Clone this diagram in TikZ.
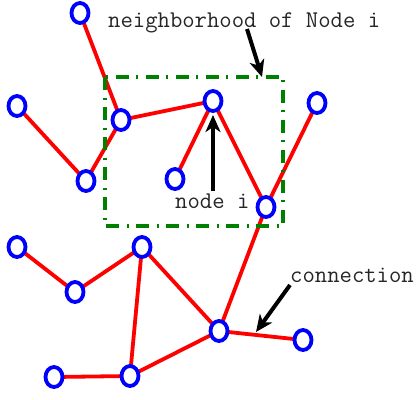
\documentclass[tikz,border=0pt]{standalone}
\usetikzlibrary{shapes.geometric,arrows.meta,backgrounds}
\definecolor{nodeblue}{RGB}{0,0,255}
\definecolor{edgered}{RGB}{255,0,0}
\definecolor{boxgreen}{RGB}{0,128,0}
\tikzset{
  vert/.style={ellipse, draw=nodeblue, fill=white, line width=3.8pt,
    minimum width=17pt, minimum height=20pt, inner sep=0pt},
  link/.style={draw=edgered, line width=3.8pt},
  lbl/.style={font=\ttfamily\fontsize{24}{26}\selectfont, text=black!85, inner sep=0pt, anchor=base west},
  pointer/.style={draw=black, line width=4pt, -{Stealth[length=17pt,width=15pt,inset=5pt]}},
  hood/.style={draw=boxgreen, line width=3.5pt, dash pattern=on 13pt off 8pt on 2pt off 7pt}
}
\begin{document}
\begin{tikzpicture}[x=1pt,y=-1pt]
\useasboundingbox (0,0) rectangle (419,399);
% neighborhood box
\draw[hood] (105,77) rectangle (283,226);
% vertices
\node[vert] (n1) at (80,13) {};
\node[vert] (n2) at (17,106) {};
\node[vert] (n3) at (86,181) {};
\node[vert] (n4) at (121,120) {};
\node[vert] (n5) at (213,101) {};
\node[vert] (n6) at (175,179) {};
\node[vert] (n7) at (266,207) {};
\node[vert] (n8) at (317,103) {};
\node[vert] (n9) at (17,247) {};
\node[vert] (n10) at (75,292) {};
\node[vert] (n11) at (142,247) {};
\node[vert] (n12) at (219,331) {};
\node[vert] (n13) at (303,340) {};
\node[vert] (n14) at (54,377) {};
\node[vert] (n15) at (130,376) {};
% edges
\begin{pgfonlayer}{background}
\draw[link] (n1.center) -- (n4.center);
\draw[link] (n2.center) -- (n3.center);
\draw[link] (n3.center) -- (n4.center);
\draw[link] (n4.center) -- (n5.center);
\draw[link] (n5.center) -- (n6.center);
\draw[link] (n5.center) -- (n7.center);
\draw[link] (n7.center) -- (n8.center);
\draw[link] (n7.center) -- (n12.center);
\draw[link] (n9.center) -- (n10.center);
\draw[link] (n10.center) -- (n11.center);
\draw[link] (n11.center) -- (n15.center);
\draw[link] (n11.center) -- (n12.center);
\draw[link] (n12.center) -- (n13.center);
\draw[link] (n14.center) -- (n15.center);
\draw[link] (n15.center) -- (n12.center);
\end{pgfonlayer}
% labels
\node[lbl] (tHood) at (108,27) {neighborhood of Node i};
\node[lbl] (tNode) at (175,208) {node i};
\node[lbl] (tConn) at (290,282) {connection};
% pointers
\coordinate (a1s) at (247,29);
\coordinate (a1e) at (262,77);
\coordinate (a2s) at (213,191);
\coordinate (a2e) at (213,115);
\coordinate (a3s) at (290,285);
\coordinate (a3e) at (256,332);
\draw[pointer] (a1s) -- (a1e);
\draw[pointer] (a2s) -- (a2e);
\draw[pointer] (a3s) -- (a3e);
\end{tikzpicture}
\end{document}
